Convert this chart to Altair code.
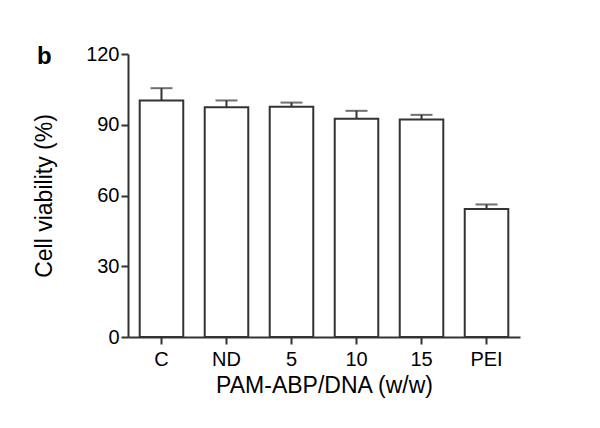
import altair as alt
import pandas as pd

categories = ["C", "ND", "5", "10", "15", "PEI"]
viability = [100.3, 97.4, 97.6, 92.5, 92.2, 54.3]
errors = [5.2, 2.9, 1.8, 3.4, 2.0, 1.9]

df = pd.DataFrame({"cat": categories, "v": viability, "e": errors})
df["top"] = df["v"] + df["e"]

AX = "#333333"
FONT = "Liberation Sans"

x = alt.X("cat:N", sort=categories, title="PAM-ABP/DNA (w/w)",
          scale=alt.Scale(paddingInner=0.33, paddingOuter=0.18),
          axis=alt.Axis(labelAngle=0, labelPadding=5, titlePadding=5,
                        labelFontSize=20, labelFont=FONT))

y = alt.Y("v:Q", title="Cell viability (%)", scale=alt.Scale(domain=[0, 120], nice=False),
          axis=alt.Axis(values=[0, 30, 60, 90, 120], labelPadding=2, titlePadding=29, grid=False,
                        labelFontSize=20, labelFont=FONT))

bars = alt.Chart(df).mark_bar(fill="white", stroke=AX, strokeWidth=2).encode(x=x, y=y)

rules = alt.Chart(df).mark_rule(color=AX, strokeWidth=2).encode(
    x=x,
    y=y,
    y2="top:Q",
)

caps = alt.Chart(df).mark_tick(color=AX, thickness=2, size=22).encode(
    x=x,
    y=alt.Y("top:Q", scale=alt.Scale(domain=[0, 120], nice=False)),
)

label = alt.Chart(pd.DataFrame({"t": ["b"]})).mark_text(
    fontSize=24, fontWeight="bold", font=FONT, color="black", align="left", baseline="alphabetic"
).encode(text="t:N", x=alt.value(-91), y=alt.value(10))

chart = alt.layer(bars, rules, caps, label).properties(
    width=392, height=283,
    autosize=alt.AutoSizeParams(type="none"),
    padding={"left": 120, "top": 46, "right": 64, "bottom": 80},
).configure_view(stroke=None).configure_axis(
    domainColor=AX, domainWidth=2, tickColor=AX, tickWidth=2, tickSize=7,
    labelColor="black", titleColor="black", labelFont=FONT, titleFont=FONT,
    titleFontWeight="normal", labelFontSize=20, titleFontSize=23, grid=False,
)

chart.save("out.html", embed_options={"renderer": "svg", "actions": False})
